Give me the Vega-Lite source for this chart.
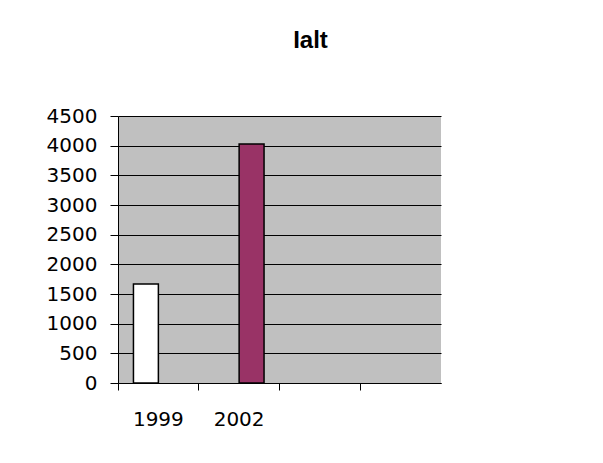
{
  "$schema": "https://vega.github.io/schema/vega-lite/v6.json",
  "width": 323,
  "height": 267,
  "autosize": {"type": "none"},
  "padding": {"left": 118, "top": 116, "right": 162, "bottom": 80},
  "background": "#FFFFFF",
  "title": {
    "text": "Ialt",
    "font": "Liberation Sans",
    "fontSize": 24,
    "fontWeight": "bold",
    "color": "#000000",
    "anchor": "middle",
    "dx": 31,
    "offset": 53
  },
  "data": {
    "values": [
      {"year": "1999", "series": "1999", "value": 1670},
      {"year": "2002", "series": "2002", "value": 4030}
    ]
  },
  "mark": {"type": "bar", "stroke": "#000000", "strokeWidth": 1.5},
  "encoding": {
    "x": {
      "field": "year",
      "type": "nominal",
      "scale": {"domain": ["1999", "2002", " ", "  "], "paddingInner": 0, "paddingOuter": 0},
      "axis": {
        "title": null,
        "labelAngle": 0,
        "bandPosition": 0,
        "labelFont": "DejaVu Sans",
        "labelFontSize": 20,
        "labelColor": "#000000",
        "labelPadding": 19,
        "tickSize": 7,
        "tickColor": "#000000",
        "domainColor": "#000000"
      }
    },
    "xOffset": {
      "field": "series",
      "type": "nominal",
      "scale": {"domain": ["1999", "2002"], "paddingInner": 0, "paddingOuter": 0.62}
    },
    "y": {
      "field": "value",
      "type": "quantitative",
      "scale": {"domain": [0, 4500], "nice": false},
      "axis": {
        "title": null,
        "values": [0, 500, 1000, 1500, 2000, 2500, 3000, 3500, 4000, 4500],
        "format": "d",
        "labelFont": "DejaVu Sans",
        "labelFontSize": 20,
        "labelColor": "#000000",
        "labelPadding": 13,
        "tickSize": 8,
        "tickColor": "#000000",
        "domainColor": "#000000",
        "grid": true,
        "gridColor": "#000000",
        "gridWidth": 1
      }
    },
    "fill": {
      "field": "series",
      "type": "nominal",
      "scale": {"domain": ["1999", "2002"], "range": ["#FFFFFF", "#993366"]},
      "legend": null
    }
  },
  "config": {
    "view": {"fill": "#C0C0C0", "stroke": null},
    "axis": {"domainWidth": 1, "tickWidth": 1}
  }
}
